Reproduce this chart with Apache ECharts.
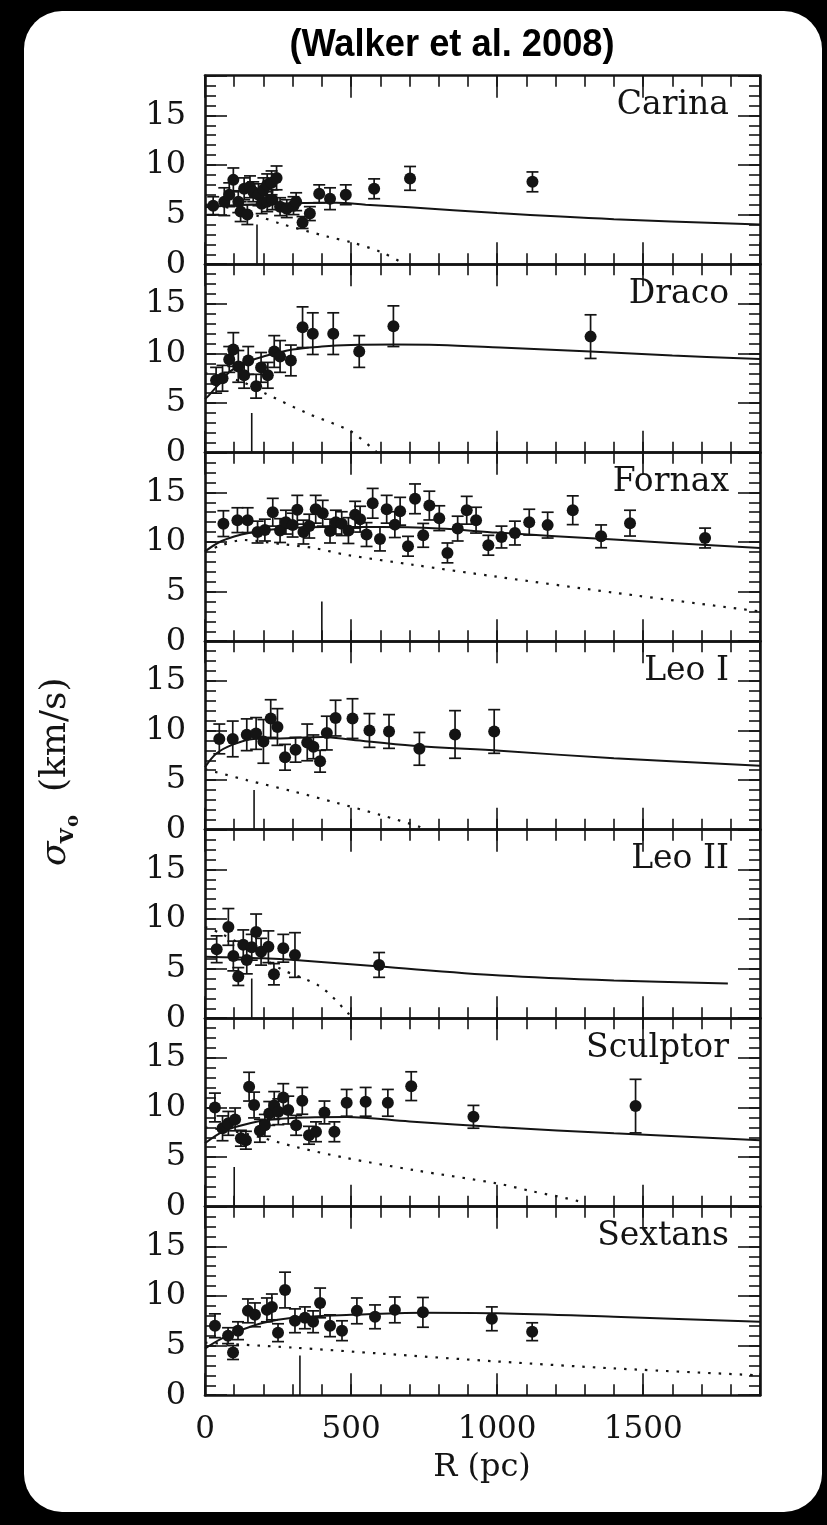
<!DOCTYPE html>
<html>
<head>
<meta charset="utf-8">
<script src="https://cdn.jsdelivr.net/npm/echarts@6/dist/echarts.min.js"></script>
<style>
html,body{margin:0;padding:0;background:#000;}
#chart{width:827px;height:1525px;}
</style>
</head>
<body>
<div id="chart"></div>
<script>
// ---------------- DATA ----------------
const galaxies = ['Carina','Draco','Fornax','Leo I','Leo II','Sculptor','Sextans'];
const xTicks = [0,500,1000,1500];
const yTicks = [0,5,10,15];

// points: [R (pc), sigma (km/s), error]
const carinaPts = [[28,5.9,0.9],[66,6.3,1.4],[83,7.0,1.2],[97,8.5,1.2],[114,6.3,1.1],[122,5.3,1.0],[134,7.6,1.1],[145,5.0,1.0],[154,7.8,1.1],[165,7.3,1.0],[183,7.0,1.1],[194,6.1,1.0],[200,7.5,1.2],[213,6.3,1.0],[213,8.0,1.1],[228,8.2,1.2],[231,6.5,1.0],[245,8.7,1.2],[257,5.8,0.9],[280,5.6,0.9],[303,5.9,0.9],[312,6.3,0.9],[334,4.2,0.6],[359,5.1,0.7],[391,7.1,0.9],[428,6.6,1.1],[482,7.0,1.0],[579,7.6,1.0],[702,8.65,1.2],[1121,8.3,1.0]];
const dracoPts = [[38,7.3,1.3],[60,7.5,1.3],[83,9.4,1.3],[97,10.4,1.7],[114,8.7,1.6],[134,7.8,1.3],[148,9.3,1.4],[175,6.7,1.2],[192,8.6,1.5],[215,7.8,1.3],[237,10.2,1.6],[257,9.7,1.6],[294,9.3,1.55],[334,12.65,2.05],[369,12.0,2.1],[439,12.0,2.1],[528,10.2,1.6],[645,12.75,2.05],[1320,11.7,2.2]];
const fornaxPts = [[63,11.85,1.3],[111,12.2,1.25],[146,12.2,1.25],[180,11.0,1.1],[205,11.2,1.1],[232,13.0,1.4],[257,11.15,1.2],[277,12.0,1.2],[300,11.7,1.2],[316,13.25,1.45],[337,11.0,1.2],[357,11.6,1.2],[379,13.3,1.4],[403,12.9,1.3],[428,11.1,1.2],[448,12.0,1.2],[468,11.85,1.2],[491,11.15,1.3],[514,12.75,1.35],[531,12.3,1.3],[553,10.75,1.2],[574,13.9,1.5],[599,10.3,1.2],[622,13.3,1.4],[650,11.75,1.3],[668,13.1,1.4],[695,9.57,1.0],[719,14.35,1.5],[747,10.67,1.2],[768,13.67,1.45],[802,12.4,1.25],[830,8.9,1.0],[865,11.35,1.25],[896,13.2,1.4],[928,12.2,1.3],[970,9.67,1.0],[1015,10.5,1.1],[1061,10.9,1.2],[1110,12.0,1.3],[1173,11.7,1.3],[1259,13.2,1.45],[1356,10.57,1.15],[1455,11.9,1.3],[1712,10.4,1.0]];
const leoIPts = [[49,9.15,1.5],[95,9.15,1.8],[143,9.57,1.6],[175,9.7,1.6],[200,8.9,2.2],[225,11.2,1.9],[248,10.35,1.85],[274,7.3,1.3],[310,8.06,1.25],[350,8.8,1.85],[371,8.35,1.2],[394,6.9,1.1],[417,9.74,1.7],[447,11.25,1.8],[505,11.2,2.0],[563,10.0,1.7],[630,9.9,1.7],[734,8.15,1.65],[856,9.6,2.4],[990,9.9,2.2]];
const leoIIPts = [[40,6.95,1.35],[80,9.2,1.85],[97,6.27,1.5],[114,4.2,0.9],[131,7.4,1.5],[143,5.87,1.4],[160,7.15,1.3],[175,8.7,1.8],[192,6.7,1.35],[217,7.2,1.6],[236,4.43,1.07],[268,7.05,1.4],[308,6.37,2.25],[596,5.37,1.25]];
const sculptorPts = [[34,10.0,1.45],[60,7.9,1.25],[80,8.4,1.2],[103,8.8,1.15],[123,6.9,0.8],[140,6.7,0.9],[151,12.1,1.45],[168,10.25,1.3],[188,7.65,1.15],[205,8.2,1.1],[220,9.4,1.2],[237,10.2,1.4],[251,9.57,1.3],[268,11.0,1.4],[285,9.74,1.4],[312,8.2,1.0],[333,10.67,1.35],[356,7.2,0.9],[380,7.55,1.0],[409,9.5,1.15],[443,7.55,1.0],[485,10.47,1.35],[550,10.57,1.45],[626,10.47,1.35],[706,12.15,1.45],[919,9.06,1.15],[1474,10.14,2.7]];
const sextansPts = [[34,7.0,1.2],[79,6.0,0.8],[96,4.3,0.7],[113,6.5,0.9],[147,8.5,1.2],[171,8.1,1.2],[212,8.6,1.2],[229,8.9,1.3],[250,6.3,0.9],[274,10.6,1.8],[308,7.5,1.2],[342,7.8,1.1],[370,7.4,1.1],[394,9.3,1.5],[428,7.0,1.1],[469,6.5,1.0],[520,8.5,1.3],[582,7.9,1.2],[650,8.6,1.3],[746,8.35,1.5],[982,7.7,1.2],[1120,6.4,0.9]];

// model curves (solid) [R, sigma]
const carinaFit = [[0,5.75],[50,5.85],[100,5.95],[200,6.05],[300,6.15],[450,6.2],[550,6.0],[700,5.75],[1000,5.15],[1400,4.53],[1900,4.0]];
const dracoFit = [[0,5.4],[11,5.7],[50,7.0],[86,8.2],[150,9.2],[200,9.7],[300,10.4],[400,10.7],[500,10.85],[650,10.9],[800,10.85],[1010,10.6],[1320,10.2],[1600,9.8],[1900,9.45]];
const fornaxFit = [[0,9.05],[50,10.0],[100,10.55],[150,10.9],[250,11.3],[400,11.5],[600,11.5],[800,11.35],[1000,10.95],[1400,10.24],[1900,9.4]];
const leoIFit = [[0,6.3],[40,7.7],[97,8.6],[166,9.15],[257,9.2],[405,9.35],[502,9.06],[713,8.46],[1010,7.95],[1400,7.2],[1900,6.45]];
const leoIIFit = [[0,6.2],[200,6.04],[308,5.87],[599,5.2],[1010,4.3],[1400,3.8],[1790,3.5]];
const sculptorFit = [[0,6.4],[50,7.4],[100,8.0],[200,8.7],[350,9.0],[485,9.05],[700,8.6],[1010,8.0],[1400,7.4],[1900,6.7]];
const sextansFit = [[0,4.7],[50,5.6],[100,6.3],[200,7.3],[300,7.8],[500,8.1],[750,8.3],[1000,8.25],[1400,7.9],[1900,7.4]];

// dotted curves [R, sigma]
const carinaDot = [[0,6.0],[100,5.6],[188,4.8],[257,4.1],[417,2.8],[502,2.2],[599,1.27],[668,0.26],[680,0]];
const dracoDot = [[0,8.0],[60,7.7],[131,7.1],[205,6.0],[348,4.0],[496,2.2],[571,0.5],[590,0]];
const fornaxDot = [[0,9.0],[50,9.6],[131,10.2],[257,9.8],[371,9.4],[485,8.7],[713,7.7],[999,6.5],[1398,4.9],[1900,3.0]];
const leoIDot = [[0,6.1],[143,5.0],[302,3.86],[451,2.7],[599,1.5],[736,0.27],[745,0]];
const leoIIDot = [[0,9.2],[50,8.6],[150,7.0],[257,5.0],[394,3.2],[490,0.5],[500,0]];
const sculptorDot = [[0,8.0],[100,7.6],[188,7.0],[314,6.0],[485,4.9],[713,3.7],[999,2.35],[1113,1.6],[1284,0.5],[1300,0]];
const sextansDot = [[0,5.3],[300,4.8],[600,4.2],[1000,3.4],[1400,2.7],[1900,2.0]];

// vertical marker positions (pc) and height (km/s)
const markerR = [178,160,400,168,160,100,325];
const markerH = 4;

const allPts = [carinaPts,dracoPts,fornaxPts,leoIPts,leoIIPts,sculptorPts,sextansPts];
const allFit = [carinaFit,dracoFit,fornaxFit,leoIFit,leoIIFit,sculptorFit,sextansFit];
const allDot = [carinaDot,dracoDot,fornaxDot,leoIDot,leoIIDot,sculptorDot,sextansDot];

// ---------------- LAYOUT ----------------
const X0 = 205, PW = 555, TOP0 = 75.7, PH = 188.5;
const XMAX = 1900, YMAX = 19;
const INK = '#141414';
const SERIF = '"DejaVu Serif", serif';

const grids = [], xAxes = [], yAxes = [], series = [], graphics = [];

graphics.push({type:'rect', z:-10, shape:{x:24,y:11,width:798,height:1501,r:38}, style:{fill:'#fff'}});
graphics.push({type:'text', x:452, y:45, scaleX:0.93, style:{text:'(Walker et al. 2008)', font:'bold 39px "Liberation Sans", Arial, sans-serif', fill:'#000', align:'center', verticalAlign:'middle'}});

galaxies.forEach((name, i) => {
  const top = TOP0 + i*PH;
  grids.push({left:X0, top:top, width:PW, height:PH});
  const isLast = i === galaxies.length-1;
  const base = 4*i;
  const lineS = {show:true, onZero:false, lineStyle:{color:INK, width:2.6}};
  const tickMinor = {show:true, inside:true, length:11, lineStyle:{color:INK, width:1.6}};
  const tickMajor = {show:true, inside:true, length:22, lineStyle:{color:INK, width:1.6}};
  // x axes
  xAxes.push({gridIndex:i, type:'value', position:'bottom', min:0, max:XMAX, interval:100,
    axisLine:lineS, axisTick:tickMinor, splitLine:{show:false},
    axisLabel:{show:isLast, margin:19, fontFamily:SERIF, fontSize:31, color:INK,
      formatter:v => xTicks.includes(v) ? String(v) : ''}});
  xAxes.push({gridIndex:i, type:'value', position:'bottom', min:0, max:XMAX, interval:500,
    axisLine:{show:false, onZero:false}, axisTick:tickMajor, splitLine:{show:false}, axisLabel:{show:false}});
  xAxes.push({gridIndex:i, type:'value', position:'top', min:0, max:XMAX, interval:100,
    axisLine:lineS, axisTick:tickMinor, splitLine:{show:false}, axisLabel:{show:false}});
  xAxes.push({gridIndex:i, type:'value', position:'top', min:0, max:XMAX, interval:500,
    axisLine:{show:false, onZero:false}, axisTick:tickMajor, splitLine:{show:false}, axisLabel:{show:false}});
  // y axes
  yAxes.push({gridIndex:i, type:'value', position:'left', min:0, max:YMAX, interval:1,
    axisLine:lineS, axisTick:tickMinor, splitLine:{show:false},
    axisLabel:{show:true, margin:19, fontFamily:SERIF, fontSize:32, color:INK,
      formatter:v => yTicks.includes(v) ? String(v) : ''}});
  yAxes.push({gridIndex:i, type:'value', position:'left', min:0, max:YMAX, interval:5,
    axisLine:{show:false, onZero:false}, axisTick:tickMajor, splitLine:{show:false}, axisLabel:{show:false}});
  yAxes.push({gridIndex:i, type:'value', position:'right', min:0, max:YMAX, interval:1,
    axisLine:lineS, axisTick:tickMinor, splitLine:{show:false}, axisLabel:{show:false}});
  yAxes.push({gridIndex:i, type:'value', position:'right', min:0, max:YMAX, interval:5,
    axisLine:{show:false, onZero:false}, axisTick:tickMajor, splitLine:{show:false}, axisLabel:{show:false}});

  const ax = {xAxisIndex:base, yAxisIndex:base};
  series.push(Object.assign({type:'line', data:allFit[i], smooth:0.35, showSymbol:false, silent:true,
    lineStyle:{color:INK, width:2}, z:3}, ax));
  series.push(Object.assign({type:'line', data:allDot[i], smooth:0.3, showSymbol:false, silent:true,
    lineStyle:{color:INK, width:2.2, type:[2.5,8]}, z:3}, ax));
  series.push(Object.assign({type:'line', data:[[markerR[i],0],[markerR[i],markerH]], showSymbol:false, silent:true,
    lineStyle:{color:INK, width:1.6}, z:3}, ax));
  series.push(Object.assign({type:'custom', data:allPts[i], silent:true, z:4,
    encode:{x:0, y:1},
    renderItem:(params, api) => {
      const x = api.value(0), y = api.value(1), e = api.value(2);
      const t = api.coord([x, y+e]), b = api.coord([x, y-e]);
      const hw = 6, st = {stroke:INK, lineWidth:1.7};
      return {type:'group', children:[
        {type:'line', shape:{x1:t[0],y1:t[1],x2:b[0],y2:b[1]}, style:st},
        {type:'line', shape:{x1:t[0]-hw,y1:t[1],x2:t[0]+hw,y2:t[1]}, style:st},
        {type:'line', shape:{x1:b[0]-hw,y1:b[1],x2:b[0]+hw,y2:b[1]}, style:st}
      ]};
    }}, ax));
  series.push(Object.assign({type:'scatter', data:allPts[i].map(p => [p[0], p[1]]), symbol:'circle', symbolSize:12,
    itemStyle:{color:INK, opacity:1}, silent:true, z:5}, ax));

  graphics.push({type:'text', x:729, y:top+30, style:{text:name, font:'33px ' + SERIF, fill:INK, align:'right', verticalAlign:'middle'}});
});

// axis titles
graphics.push({type:'text', x:482, y:1468, style:{text:'R (pc)', font:'32px ' + SERIF, fill:INK, align:'center', verticalAlign:'middle'}});
graphics.push({type:'group', x:56, y:866, rotation:Math.PI/2, children:[
  {type:'text', x:0, y:0, style:{text:'σ', font:'italic 36px ' + SERIF, fill:INK, align:'left', verticalAlign:'middle'}},
  {type:'text', x:23, y:10, style:{text:'v', font:'bold 25px ' + SERIF, fill:INK, align:'left', verticalAlign:'middle'}},
  {type:'text', x:39, y:17, style:{text:'o', font:'bold 18px ' + SERIF, fill:INK, align:'left', verticalAlign:'middle'}},
  {type:'text', x:74, y:0, style:{text:'(km/s)', font:'36px ' + SERIF, fill:INK, align:'left', verticalAlign:'middle'}}
]});

const chart = echarts.init(document.getElementById('chart'), null, {renderer:'canvas'});
chart.setOption({
  backgroundColor:'#000',
  animation:false,
  grid:grids, xAxis:xAxes, yAxis:yAxes, series:series, graphic:graphics
});
</script>
</body>
</html>
